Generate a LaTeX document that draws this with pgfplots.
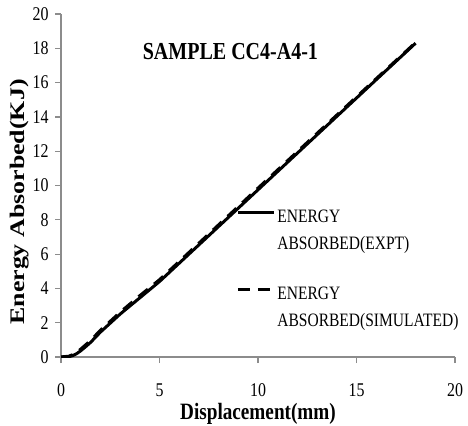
\documentclass[border=0pt]{standalone}
\usepackage{fontspec}
\setmainfont{Liberation Serif}[FakeStretch=0.82]
\newfontfamily\ylfont{Liberation Serif}
\usepackage{pgfplots}
\pgfplotsset{compat=1.18}

% energy absorbed vs displacement, experiment
\pgfplotstableread{
x y
0    0
0.2  0
0.4  0.02
0.6  0.08
0.8  0.2
1.0  0.36
1.25 0.6
1.5  0.85
2    1.45
3    2.5
4    3.45
5    4.4
6    5.47
8    7.61
10   9.75
12   11.89
14   14.03
16   16.17
18   18.3
}\expt
% energy absorbed vs displacement, simulation
\pgfplotstableread{
x y
0    0
0.4  0.04
0.7  0.18
1.0  0.45
1.5  0.95
2    1.55
3    2.6
4    3.57
5    4.5
6    5.56
8    7.7
10   9.84
12   11.97
14   14.1
16   16.22
18   18.33
}\simul

\begin{document}
\begin{tikzpicture}[x=1bp,y=1bp]
\useasboundingbox (0,0) rectangle (468,425);
\begin{axis}[
  at={(61bp,68bp)}, anchor=origin,
  scale only axis, width=394bp, height=343bp,
  xmin=0, xmax=20, ymin=0, ymax=20,
  axis x line*=bottom, axis y line*=left,
  axis line style={black!45, line width=1.6bp},
  tick style={black!45, line width=1.2bp},
  tick align=outside, major tick length=6bp,
  xtick={0,5,...,20}, ytick={0,2,...,20},
  /pgf/number format/assume math mode=true,
  tick label style={font=\fontsize{19.5}{19.5}\selectfont},
  xticklabel style={font=\fontsize{19.5}{19.5}\selectfont, yshift=-17bp},
  yticklabel style={font=\fontsize{19.5}{19.5}\selectfont, xshift=-3bp},
  xlabel={\bfseries\fontsize{23.5}{23.5}\selectfont Displacement(mm)},
  xlabel style={at={(rel axis cs:0.5,0)}, anchor=base, yshift=-62bp},
  ylabel={\scalebox{1}[0.8]{\ylfont\bfseries\fontsize{26}{26}\selectfont Energy Absorbed(KJ)}},
  ylabel style={at={(axis description cs:-0.105,0.452)}, anchor=center},
  legend style={draw=none, fill=none, at={(axis cs:8.73,8.83)}, anchor=north west,
    font=\fontsize{19}{27}\selectfont, nodes={align=left}, row sep=32bp},
  legend cell align=left,
  legend image code/.code={\draw[#1] (0bp,18bp) -- (36bp,18bp);},
]
\addplot[black, line width=3bp] table {\expt};
\addlegendentry{ENERGY\\ABSORBED(EXPT)}
\addplot[black, line width=3.2bp, dash pattern=on 12bp off 8bp] table {\simul};
\addlegendentry{ENERGY\\ABSORBED(SIMULATED)}
\node[font=\bfseries\fontsize{24.5}{24.5}\selectfont] at (axis cs:8.6,17.8) {SAMPLE CC4-A4-1};
\end{axis}
\end{tikzpicture}
\end{document}
